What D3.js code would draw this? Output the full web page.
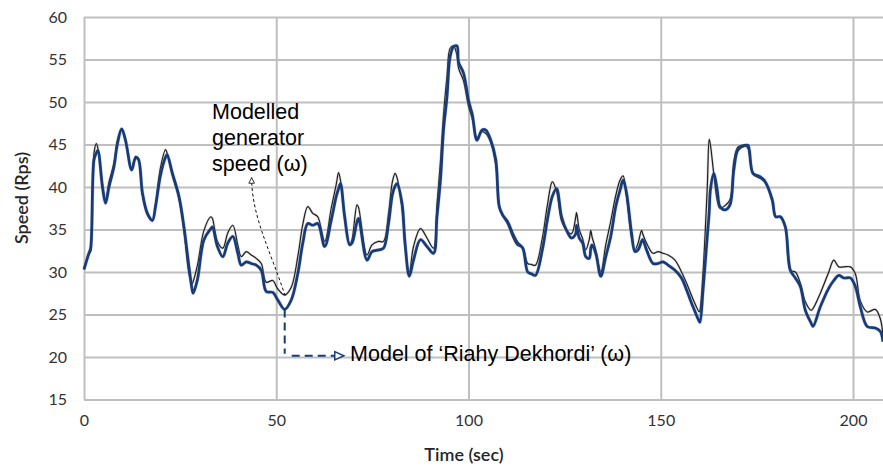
<!DOCTYPE html>
<html>
<head>
<meta charset="utf-8">
<script src="https://cdn.jsdelivr.net/npm/d3@7/dist/d3.min.js"></script>
<style>
  html, body { margin: 0; padding: 0; background: #fff; }
  svg { display: block; }
</style>
</head>
<body>
<svg id="chart" width="883" height="466"></svg>
<script>
// Time samples (s)
const time = [
  0, 1.3, 1.7, 2.6, 3.2, 3.6, 4.8, 5.6, 6.5, 7.8, 8.7, 9.8, 10.8, 12.4, 13.4, 14.1, 15.2, 16.5, 17.8, 18.6,
  19.9, 21.2, 21.6, 23.0, 24.7, 26.0, 27.3, 28.1, 28.4, 29.5, 31.2, 33.0, 33.4, 34.7, 36.1, 37.4, 38.7, 40.0,
  40.9, 42.2, 43.5, 44.8, 46.1, 47.4, 49.1, 50.4, 52.2, 53.9, 55.6, 56.9, 58.2, 59.5, 60.8, 62.6, 64.3, 65.6,
  66.2, 66.7, 67.8, 69.1, 69.7, 71.0, 71.4, 73.6, 74.9, 76.6, 77.9, 79.2, 80.2, 80.9, 81.4, 82.7, 83.5, 84.6,
  85.7, 87.5, 89.2, 90.9, 91.8, 92.7, 93.5, 94.4, 95.2, 96.1, 97.0, 97.4, 98.7, 100.0, 101.0, 102.2, 103.5,
  104.5, 105.8, 107.1, 108.0, 108.9, 110.2, 111.5, 112.8, 114.1, 115.4, 116.3, 117.4, 119.2, 120.5, 121.8,
  122.9, 124.2, 125.5, 126.8, 127.9, 128.1, 128.8, 129.7, 130.5, 131.4, 131.8, 132.1, 133.1, 134.4, 135.7,
  137.0, 138.3, 139.4, 140.2, 141.1, 142.4, 143.3, 144.1, 145.0, 145.3, 146.3, 148.0, 149.3, 150.6, 151.9,
  153.7, 155.4, 156.7, 158.4, 160.0, 160.2, 161.0, 162.1, 162.6, 162.9, 163.8, 164.7, 165.4, 166.7, 168.0,
  169.0, 170.1, 171.9, 172.7, 174.0, 175.9, 177.2, 179.0, 179.9, 181.1, 182.4, 183.7, 185.0, 186.3, 187.6,
  189.1, 189.6, 191.5, 193.7, 195.0, 196.3, 197.6, 199.3, 200.6, 201.9, 203.7, 205.8, 207.1, 207.8
];

// Model of 'Riahy Dekhordi' (Rps)
const riahySpeed = [
  30.3, 32.2, 32.6, 43.2, 44.0, 44.3, 40.0, 38.1, 40.0, 42.4, 45.1, 46.8, 45.5, 42.0, 43.4, 43.3, 39.3, 36.9, 36.1, 37.7,
  41.4, 43.5, 43.8, 41.6, 38.9, 35.3, 30.6, 28.0, 27.5, 29.1, 33.8, 35.1, 35.3, 33.0, 31.8, 33.4, 34.2, 32.2,
  30.8, 31.2, 31.0, 30.8, 30.2, 27.7, 27.6, 26.7, 25.6, 26.7, 29.8, 33.4, 35.7, 35.5, 35.7, 33.0, 36.1, 38.9,
  39.8, 40.4, 36.5, 33.2, 33.4, 35.9, 36.3, 31.4, 32.4, 32.6, 32.8, 35.7, 39.1, 40.1, 40.4, 38.1, 33.4, 29.5,
  31.4, 33.8, 33.0, 32.2, 36.5, 40.8, 46.7, 50.6, 55.3, 56.5, 56.6, 54.7, 53.4, 50.2, 48.5, 45.5, 46.7,
  46.7, 45.5, 43.2, 37.7, 36.7, 35.9, 34.5, 33.4, 32.8, 30.0, 29.8, 29.6, 32.6, 36.1, 38.9,
  39.8, 36.5, 34.9, 34.0, 34.5, 35.5, 34.0, 33.4, 31.8, 31.6, 32.8, 33.2, 32.2, 29.5, 31.8,
  34.2, 37.7, 39.6, 40.8, 39.3, 34.6, 32.4, 32.6, 33.6, 33.8, 32.6, 31.0, 31.0, 31.2, 30.8,
  30.2, 29.3, 27.9, 25.9, 24.2, 24.1, 27.9, 34.2, 37.0, 39.6, 41.6, 39.6, 37.7, 37.3, 37.9,
  42.0, 44.4, 44.9, 44.9, 41.6, 41.2, 40.6, 38.5, 36.5, 36.5, 35.3, 30.2, 29.3, 28.3, 25.5,
  24.0, 23.6, 25.9, 28.1, 29.0, 29.6, 29.3, 29.3, 28.3, 25.9, 23.6, 23.4, 23.0, 21.8
];

// Modelled generator speed (Rps)
const modelledSpeed = [
  30.3, 32.4, 33.0, 44.0, 45.1, 44.6, 40.3, 38.4, 40.6, 42.8, 45.5, 46.9, 45.3, 42.2, 43.6, 43.4, 39.0, 36.7, 36.0, 38.0,
  42.3, 44.4, 44.0, 41.3, 38.6, 34.8, 29.8, 28.6, 28.9, 30.8, 34.9, 36.5, 36.3, 33.6, 32.8, 34.6, 35.5, 33.2,
  31.8, 32.4, 32.0, 31.6, 31.0, 28.8, 29.0, 28.0, 27.3, 28.2, 31.8, 35.6, 37.7, 36.9, 36.5, 33.6, 37.5, 40.3,
  41.7, 40.8, 36.3, 33.2, 33.8, 37.9, 37.6, 32.0, 33.2, 33.6, 33.6, 36.9, 40.6, 41.6, 41.1, 37.5, 33.0, 30.0,
  33.0, 35.1, 34.0, 32.8, 38.0, 43.0, 48.5, 53.0, 56.3, 56.6, 55.5, 54.0, 52.5, 49.5, 48.0, 45.8, 46.5,
  46.3, 45.2, 42.5, 37.5, 36.6, 35.6, 34.1, 33.1, 32.9, 31.0, 30.9, 30.8, 34.0, 37.8, 40.6,
  39.5, 36.0, 34.9, 34.5, 36.5, 37.0, 35.0, 33.9, 32.6, 33.8, 34.9, 34.2, 32.6, 30.0, 33.2,
  36.0, 39.0, 40.8, 41.3, 38.8, 34.0, 32.6, 33.4, 34.9, 34.5, 33.4, 32.2, 32.4, 32.2, 32.0,
  31.4, 30.0, 28.7, 26.8, 25.3, 25.5, 30.0, 40.0, 45.6, 45.0, 41.5, 38.4, 37.5, 37.8, 38.5,
  43.0, 44.7, 44.9, 44.5, 41.5, 41.0, 40.5, 38.3, 36.5, 36.5, 35.3, 30.2, 30.0, 28.7, 26.5,
  25.5, 25.7, 27.5, 30.0, 31.4, 30.6, 30.6, 30.6, 29.8, 26.6, 25.3, 25.6, 24.5, 22.4
];

const xTicks = [0, 50, 100, 150, 200];
const yTicks = [15, 20, 25, 30, 35, 40, 45, 50, 55, 60];

const svg = d3.select("#chart");
const plotLeft = 84, plotRight = 883, plotTop = 17, plotBottom = 399.5;

const x = d3.scaleLinear().domain([0, 207.8]).range([plotLeft, plotRight]);
const y = d3.scaleLinear().domain([15, 60]).range([plotBottom, plotTop]);

const gridColor = "#bfbfbf";

// Horizontal gridlines (the 15 line doubles as the x-axis baseline)
svg.append("g")
  .attr("transform", `translate(${plotLeft},0)`)
  .call(d3.axisLeft(y).tickValues(yTicks).tickSize(-(plotRight - plotLeft)).tickFormat(""))
  .call(g => g.select(".domain").remove())
  .call(g => g.selectAll("line").attr("stroke", gridColor).attr("stroke-width", 2));

// Vertical gridlines (the 0 line doubles as the y-axis line)
svg.append("g")
  .attr("transform", `translate(0,${plotBottom})`)
  .call(d3.axisBottom(x).tickValues(xTicks).tickSize(-(plotBottom - plotTop)).tickFormat(""))
  .call(g => g.select(".domain").remove())
  .call(g => g.selectAll("line").attr("stroke", gridColor).attr("stroke-width", 2));

// Tick labels
const tickFont = "Lato, 'Open Sans', sans-serif";
svg.append("g")
  .attr("transform", `translate(${plotLeft},0)`)
  .call(d3.axisLeft(y).tickValues(yTicks).tickSize(0).tickPadding(17))
  .call(g => g.select(".domain").remove())
  .call(g => g.selectAll("text")
    .attr("font-family", tickFont).attr("font-size", 16).attr("fill", "#333"));

svg.append("g")
  .attr("transform", `translate(0,${plotBottom})`)
  .call(d3.axisBottom(x).tickValues(xTicks).tickSize(0).tickPadding(15))
  .call(g => g.select(".domain").remove())
  .call(g => g.selectAll("text")
    .attr("font-family", tickFont).attr("font-size", 16).attr("fill", "#333"));

// Axis titles
svg.append("text")
  .attr("x", 464).attr("y", 461)
  .attr("text-anchor", "middle")
  .attr("font-family", tickFont).attr("font-size", 18).attr("font-weight", 600)
  .attr("fill", "#262626")
  .text("Time (sec)");

svg.append("text")
  .attr("transform", "translate(28,198) rotate(-90)")
  .attr("text-anchor", "middle")
  .attr("font-family", tickFont).attr("font-size", 18).attr("font-weight", 600)
  .attr("fill", "#262626")
  .text("Speed (Rps)");

// Series
const lineOf = vals => d3.line()
  .x((d, i) => x(time[i]))
  .y(d => y(d))
  .curve(d3.curveCatmullRom.alpha(0.5))(vals);

const plot = svg.append("g");

plot.append("path")
  .attr("d", lineOf(modelledSpeed))
  .attr("fill", "none")
  .attr("stroke", "#b8b8b8")
  .attr("stroke-width", 2.6)
  .attr("stroke-opacity", 0.5);
plot.append("path")
  .attr("d", lineOf(modelledSpeed))
  .attr("fill", "none")
  .attr("stroke", "#1e1e1e")
  .attr("stroke-width", 1.2);

plot.append("path")
  .attr("d", lineOf(riahySpeed))
  .attr("fill", "none")
  .attr("stroke", "#6d86b3")
  .attr("stroke-width", 3.8)
  .attr("stroke-opacity", 0.3);
plot.append("path")
  .attr("d", lineOf(riahySpeed))
  .attr("fill", "none")
  .attr("stroke", "#173a78")
  .attr("stroke-width", 2.7);

// Annotation markers
const navy = "#173a78";
const defs = svg.append("defs");
defs.append("marker")
  .attr("id", "openTriBlack")
  .attr("viewBox", "0 0 10 10").attr("refX", 9).attr("refY", 5)
  .attr("markerWidth", 7).attr("markerHeight", 7)
  .attr("markerUnits", "userSpaceOnUse")
  .attr("orient", "auto")
  .append("path").attr("d", "M1,1 L9,5 L1,9 Z")
  .attr("fill", "#fff").attr("stroke", "#111").attr("stroke-width", 1.2);
defs.append("marker")
  .attr("id", "openTriNavy")
  .attr("viewBox", "0 0 12 12").attr("refX", 11).attr("refY", 6)
  .attr("markerWidth", 13).attr("markerHeight", 11)
  .attr("markerUnits", "userSpaceOnUse")
  .attr("orient", "auto")
  .append("path").attr("d", "M1,1.5 L11,6 L1,10.5 Z")
  .attr("fill", "#fff").attr("stroke", navy).attr("stroke-width", 1.6);

// Annotation: modelled generator speed
const genAnchor = [52.3, 27.2];   // trough of the modelled speed
const genTip = [43.6, 41.1];
const p = d3.path();
p.moveTo(x(genAnchor[0]), y(genAnchor[1]));
p.bezierCurveTo(x(48.5), y(32.5), x(43.6), y(36.5), x(genTip[0]), y(genTip[1]));
svg.append("path")
  .attr("d", p.toString())
  .attr("fill", "none")
  .attr("stroke", "#111")
  .attr("stroke-width", 1)
  .attr("stroke-dasharray", "3,2.5")
  .attr("marker-end", "url(#openTriBlack)");

const annFont = "'Liberation Sans', Arial, sans-serif";
const genLabel = svg.append("text")
  .attr("font-family", annFont).attr("font-size", 21.5).attr("fill", "#000");
[["Modelled", 48.0], ["generator", 44.95], ["speed (ω)", 41.9]].forEach(([t, v]) => {
  genLabel.append("tspan").attr("x", x(33.3)).attr("y", y(v)).text(t);
});

// Annotation: model of Riahy Dekhordi
const riahyAnchor = [52.2, 25.6];  // trough of the Riahy Dekhordi model
const elbowY = 20.15;
svg.append("path")
  .attr("d", `M${x(riahyAnchor[0])},${y(riahyAnchor[1])} V${y(elbowY) - 2}`)
  .attr("fill", "none").attr("stroke", navy).attr("stroke-width", 2)
  .attr("stroke-dasharray", "8,5");
svg.append("path")
  .attr("d", `M${x(riahyAnchor[0]) + 7},${y(elbowY)} H${x(67.6)}`)
  .attr("fill", "none").attr("stroke", navy).attr("stroke-width", 2)
  .attr("stroke-dasharray", "8,5")
  .attr("marker-end", "url(#openTriNavy)");

svg.append("text")
  .attr("x", x(69.2)).attr("y", y(19.5))
  .attr("font-family", annFont).attr("font-size", 21.5).attr("fill", "#000")
  .text("Model of ‘Riahy Dekhordi’ (ω)");
</script>
</body>
</html>
